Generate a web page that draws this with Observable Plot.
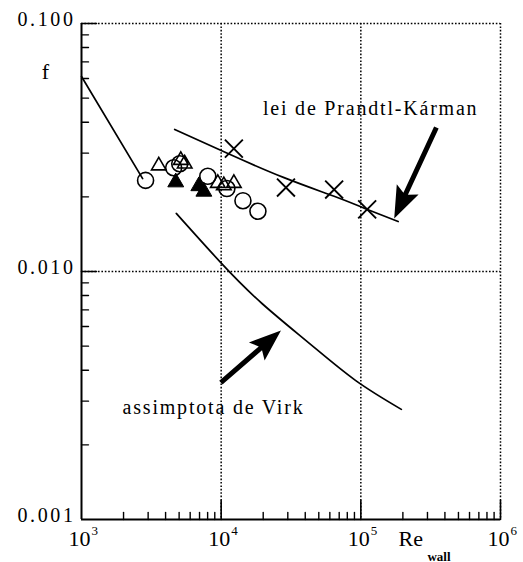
<!DOCTYPE html>
<html><head><meta charset="utf-8">
<script src="https://cdn.jsdelivr.net/npm/d3@7"></script>
<script src="https://cdn.jsdelivr.net/npm/@observablehq/plot@0.6"></script>
<style>
body{margin:0;background:#fff}
g[aria-description="spaced"] text{letter-spacing:1.8px}
g[aria-description="ylab"] text{letter-spacing:2.6px}
</style></head><body><div id="chart"></div>
<script>
// ---- data ----
const laminarRe = [1000, 2740];
const laminarF  = [0.0611, 0.0237];
const pkRe = [4650, 11170, 28200, 64400, 105700, 185000];
const pkF  = [0.0374, 0.0299, 0.0239, 0.0201, 0.0180, 0.0159];
const virkRe = [4776, 10090, 19600, 42800, 92000, 195000];
const virkF  = [0.01714, 0.01076, 0.00743, 0.00513, 0.00363, 0.00278];
const circleRe = [2876, 4570, 5050, 8020, 10990, 14320, 18330];
const circleF  = [0.0233, 0.0262, 0.0272, 0.0242, 0.0216, 0.0193, 0.0175];
const openTriRe = [3575, 5140, 5480, 9460, 10450, 12330];
const openTriF  = [0.0267, 0.0281, 0.0272, 0.0227, 0.0222, 0.0227];
const fillTriRe = [4730, 6920, 7520];
const fillTriF  = [0.0229, 0.0221, 0.0210];
const crossRe = [12330, 29100, 64400, 111000];
const crossF  = [0.0313, 0.0218, 0.0214, 0.0178];
const decadesRe = [1e3, 1e4, 1e5, 1e6];
const decadeExp = ["3", "4", "5", "6"];
const gridRe = [1e4, 1e5, 1e6];
const gridF = [0.01, 0.1];
const yTicks = [0.001, 0.01, 0.1];
const yTickLabels = ["0.001", "0.010", "0.100"];
const minorRe = [1e3, 1e4, 1e5].flatMap(d => [2,3,4,5,6,7,8,9].map(k => k * d));
const minorF = [1e-3, 1e-2].flatMap(d => [2,3,4,5,6,7,8,9].map(k => k * d));
const notes = [
  {text: "lei de Prandtl-Kárman", Re: 19900, f: 0.0426},
  {text: "assimptota de Virk", Re: 1968, f: 0.002673}
];
const fLabel = [{text: "f", Re: 552, f: 0.0616}];
const arrows = [
  {Re1: 347500, f1: 0.0381, Re2: 173400, f2: 0.01637},
  {Re1: 9950, f1: 0.003565, Re2: 26800, f2: 0.00578}
];

const zip = (xs, ys) => xs.map((Re, i) => ({Re, f: ys[i]}));
const serif = "'Liberation Serif', 'Times New Roman', serif";
const dotted = {stroke: "black", strokeWidth: 1.5, strokeDasharray: "1.6,1.8"};
const tickShape = {draw(ctx, l) { ctx.moveTo(0, 0); ctx.lineTo(0, -l); }};

const common = {
  width: 523, height: 562,
  marginLeft: 81, marginRight: 23, marginTop: 23, marginBottom: 43,
  x: {type: "log", domain: [1e3, 1e6], axis: null},
  y: {type: "log", domain: [1e-3, 1e-1], axis: null},
  length: {type: "identity"},
  style: {fontFamily: serif, background: "white", overflow: "visible", color: "black"}
};

const base = [
  Plot.ruleX(gridRe, dotted),
  Plot.ruleY(gridF, dotted),
  Plot.ruleX([1e3], {strokeWidth: 2}),
  Plot.ruleY([1e-3], {strokeWidth: 2}),
  // inward ticks
  Plot.vector(minorRe, {x: d => d, frameAnchor: "bottom", length: 7, rotate: 0, anchor: "start", shape: tickShape, stroke: "black", strokeWidth: 1.4}),
  Plot.vector(gridRe, {x: d => d, frameAnchor: "bottom", length: 19, rotate: 0, anchor: "start", shape: tickShape, stroke: "black", strokeWidth: 1.6}),
  Plot.vector(minorF, {y: d => d, frameAnchor: "left", length: 7, rotate: 90, anchor: "start", shape: tickShape, stroke: "black", strokeWidth: 1.4}),
  Plot.vector(gridF, {y: d => d, frameAnchor: "left", length: 15, rotate: 90, anchor: "start", shape: tickShape, stroke: "black", strokeWidth: 1.6}),
  // tick labels
  Plot.text(decadesRe, {x: d => d, frameAnchor: "bottom", text: () => "10", fontSize: 22, fontFamily: serif, dx: -2, dy: 26, lineAnchor: "bottom"}),
  Plot.text(decadesRe, {x: d => d, frameAnchor: "bottom", text: (d, i) => decadeExp[i], fontSize: 13, fontFamily: serif, textAnchor: "start", dx: 10, dy: 15, lineAnchor: "bottom"}),
  Plot.text(yTicks, {y: d => d, frameAnchor: "left", text: (d, i) => yTickLabels[i], textAnchor: "end", dx: -6, dy: -4, fontSize: 20, fontFamily: serif, ariaDescription: "ylab"}),
  Plot.text(fLabel, {x: "Re", y: "f", text: "text", fontSize: 22, fontFamily: serif, lineAnchor: "bottom", dy: 3}),
  Plot.text([186000], {x: d => d, frameAnchor: "bottom", text: () => "Re", fontSize: 22, fontFamily: serif, textAnchor: "start", dy: 26, lineAnchor: "bottom"}),
  Plot.text([300000], {x: d => d, frameAnchor: "bottom", text: () => "wall", fontSize: 13, fontWeight: "bold", fontFamily: serif, textAnchor: "start", dy: 41, lineAnchor: "bottom"}),
  Plot.text(notes, {x: "Re", y: "f", text: "text", fontSize: 20, fontFamily: serif, textAnchor: "start", lineAnchor: "bottom", ariaDescription: "spaced"}),
  // curves
  Plot.line(zip(laminarRe, laminarF), {x: "Re", y: "f", strokeWidth: 1.7}),
  Plot.line(zip(pkRe, pkF), {x: "Re", y: "f", strokeWidth: 1.7, curve: "natural"}),
  Plot.line(zip(virkRe, virkF), {x: "Re", y: "f", strokeWidth: 1.7, curve: "natural"}),
  // markers
  Plot.dot(zip(circleRe, circleF), {x: "Re", y: "f", r: 8, stroke: "black", fill: "none", strokeWidth: 1.6}),
  Plot.dot(zip(openTriRe, openTriF), {x: "Re", y: "f", symbol: "triangle", r: 5.4, stroke: "black", fill: "none", strokeWidth: 1.6}),
  Plot.dot(zip(fillTriRe, fillTriF), {x: "Re", y: "f", symbol: "triangle", r: 5.9, fill: "black", stroke: "black", strokeWidth: 1}),
  Plot.dot(zip(crossRe, crossF), {x: "Re", y: "f", symbol: "times", r: 8.2, stroke: "black", strokeWidth: 1.9})
];

const probe = Plot.plot({...common, marks: base});
const sx = probe.scale("x"), sy = probe.scale("y");
const arrowsPx = arrows.map(a => {
  const x1 = sx.apply(a.Re1), y1 = sy.apply(a.f1), x2 = sx.apply(a.Re2), y2 = sy.apply(a.f2);
  const ddx = x2 - x1, ddy = y2 - y1;
  return {...a, len: Math.hypot(ddx, ddy), rot: Math.atan2(ddx, -ddy) * 180 / Math.PI};
});
const fatArrow = {
  draw(ctx, l) {
    const hl = 32, hw = 12, sw = 2.5;
    ctx.moveTo(-sw, 0);
    ctx.lineTo(-sw, -l + hl * 0.85);
    ctx.lineTo(-hw, -l + hl);
    ctx.lineTo(0, -l);
    ctx.lineTo(hw, -l + hl);
    ctx.lineTo(sw, -l + hl * 0.85);
    ctx.lineTo(sw, 0);
    ctx.closePath();
  }
};
const chart = Plot.plot({...common, marks: [
  ...base,
  Plot.vector(arrowsPx, {x: "Re2", y: "f2", length: "len", rotate: "rot", anchor: "end", shape: fatArrow, fill: "black", stroke: "none"})
]});
document.getElementById("chart").appendChild(chart);
</script></body></html>
